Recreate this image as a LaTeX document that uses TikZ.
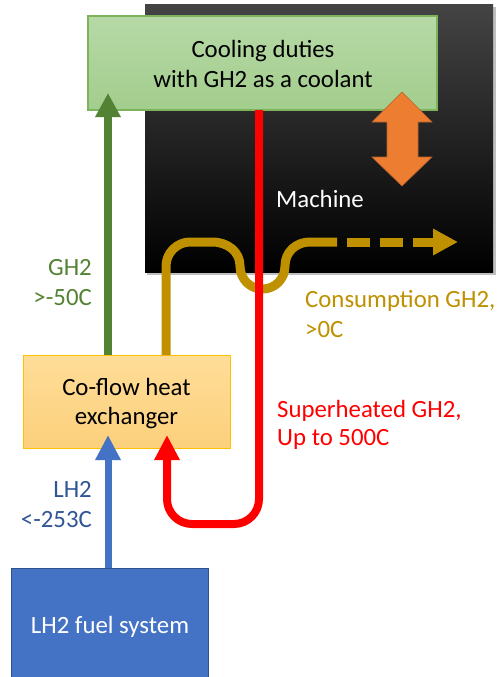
\documentclass[tikz,border=0pt]{standalone}
\usepackage{fontspec}
\setmainfont{Carlito}
\usetikzlibrary{arrows.meta}
\definecolor{redl}{HTML}{FF0000}
\definecolor{bluel}{HTML}{4472C4}
\definecolor{bluetxt}{HTML}{2F5597}
\definecolor{bluebd}{HTML}{2F528F}
\definecolor{greenl}{HTML}{548235}
\definecolor{goldl}{HTML}{BF9000}
\definecolor{orangel}{HTML}{ED7D31}
\definecolor{orangebd}{HTML}{B8612A}
\definecolor{gtop}{HTML}{B6D9A6}
\definecolor{gbot}{HTML}{A3CD8D}
\definecolor{gbd}{HTML}{7DB35A}
\definecolor{otop}{HTML}{FFDD98}
\definecolor{obot}{HTML}{FCD07C}
\definecolor{obd}{HTML}{FFC000}
\definecolor{mtop}{HTML}{444444}
\tikzset{
  txt/.style={font=\fontsize{24.8}{29}\selectfont, inner sep=0pt, anchor=base},
  pipe/.style={line cap=butt},
}
\begin{document}
\begin{tikzpicture}[x=1pt,y=-1pt]
\clip (0,0) rectangle (500,677);
\fill[white] (0,0) rectangle (500,677);
% machine
\fill[black!25] (147,7) rectangle (496,275);
\node[shade, top color=mtop, middle color=black, bottom color=black, minimum width=348pt, minimum height=267pt, inner sep=0pt] (machine) at (319,138.5) {};
% boxes
\node[shade, top color=gtop, bottom color=gbot, draw=gbd, line width=1.2pt, minimum width=349pt, minimum height=94pt, inner sep=0pt] (cool) at (262.5,63) {};
\node[shade, top color=otop, bottom color=obot, draw=obd, line width=1pt, minimum width=207pt, minimum height=93pt, inner sep=0pt] (hx) at (126.5,401.5) {};
\node[fill=bluel, draw=bluebd, line width=1pt, minimum width=197pt, minimum height=120pt, inner sep=0pt] (lh2) at (109.5,628) {};
% gold consumption line
\coordinate (gstart) at (166,355);
\coordinate (gsolid) at (337,242);
\coordinate (gend) at (458,242);
\draw[goldl, line width=9pt, pipe] (gstart) -- (166,266)
  .. controls (166,253) and (177,242) .. (190,242) -- (212,242)
  .. controls (228,242) and (240,252) .. (240,266)
  .. controls (240,279) and (250,289) .. (262.5,289)
  .. controls (275,289) and (285,279) .. (285,266)
  .. controls (285,252) and (296,242) .. (310,242) -- (gsolid);
\draw[goldl, line width=9pt, dash pattern=on 23pt off 10pt, pipe, -{Triangle[width=25pt,length=25pt]}] (gsolid) ++(10,0) -- (gend);
% red superheated line
\coordinate (rtop) at (259,110);
\coordinate (rtip) at (167,435);
\draw[redl, line width=8pt, rounded corners=25pt, -{Triangle[width=24pt,length=25pt]}] (rtop) -- (259,524) -- (167,524) -- (rtip);
% green GH2 arrow
\coordinate (gtip) at (108,93);
\draw[greenl, line width=8pt, -{Triangle[width=24pt,length=24pt]}] (108,355) -- (gtip);
% blue LH2 arrow
\coordinate (btip) at (108,435);
\draw[bluel, line width=7pt, -{Triangle[width=24pt,length=25pt]}] (108,568) -- (btip);
% orange double arrow
\draw[fill=orangel, draw=orangebd, line width=0.6pt] (402,92) -- (432,122) -- (418,122) -- (418,157) -- (432,157) -- (402,186) -- (372,157) -- (387,157) -- (387,122) -- (372,122) -- cycle;
% texts
\node[txt] (c1) at (263,57) {Cooling duties};
\node[txt] (c2) at (263,87) {with GH2 as a coolant};
\node[txt, white] (mach) at (320,207) {Machine};
\node[txt] (h1) at (126.5,395) {Co-flow heat};
\node[txt] (h2) at (126.5,424) {exchanger};
\node[txt, white] (l1) at (110,633) {LH2 fuel system};
\node[txt, anchor=base east, greenl] (g1) at (92,275) {GH2};
\node[txt, anchor=base east, greenl] (g2) at (92,305) {>-50C};
\node[txt, anchor=base east, bluetxt] (b1) at (92,497) {LH2};
\node[txt, anchor=base east, bluetxt] (b2) at (92,527) {<-253C};
\node[txt, anchor=base west, redl] (r1) at (277,417) {Superheated GH2,};
\node[txt, anchor=base west, redl] (r2) at (277,445) {Up to 500C};
\node[txt, anchor=base west, goldl] (o1) at (305,307) {Consumption GH2,};
\node[txt, anchor=base west, goldl] (o2) at (305,337) {>0C};
\end{tikzpicture}
\end{document}
